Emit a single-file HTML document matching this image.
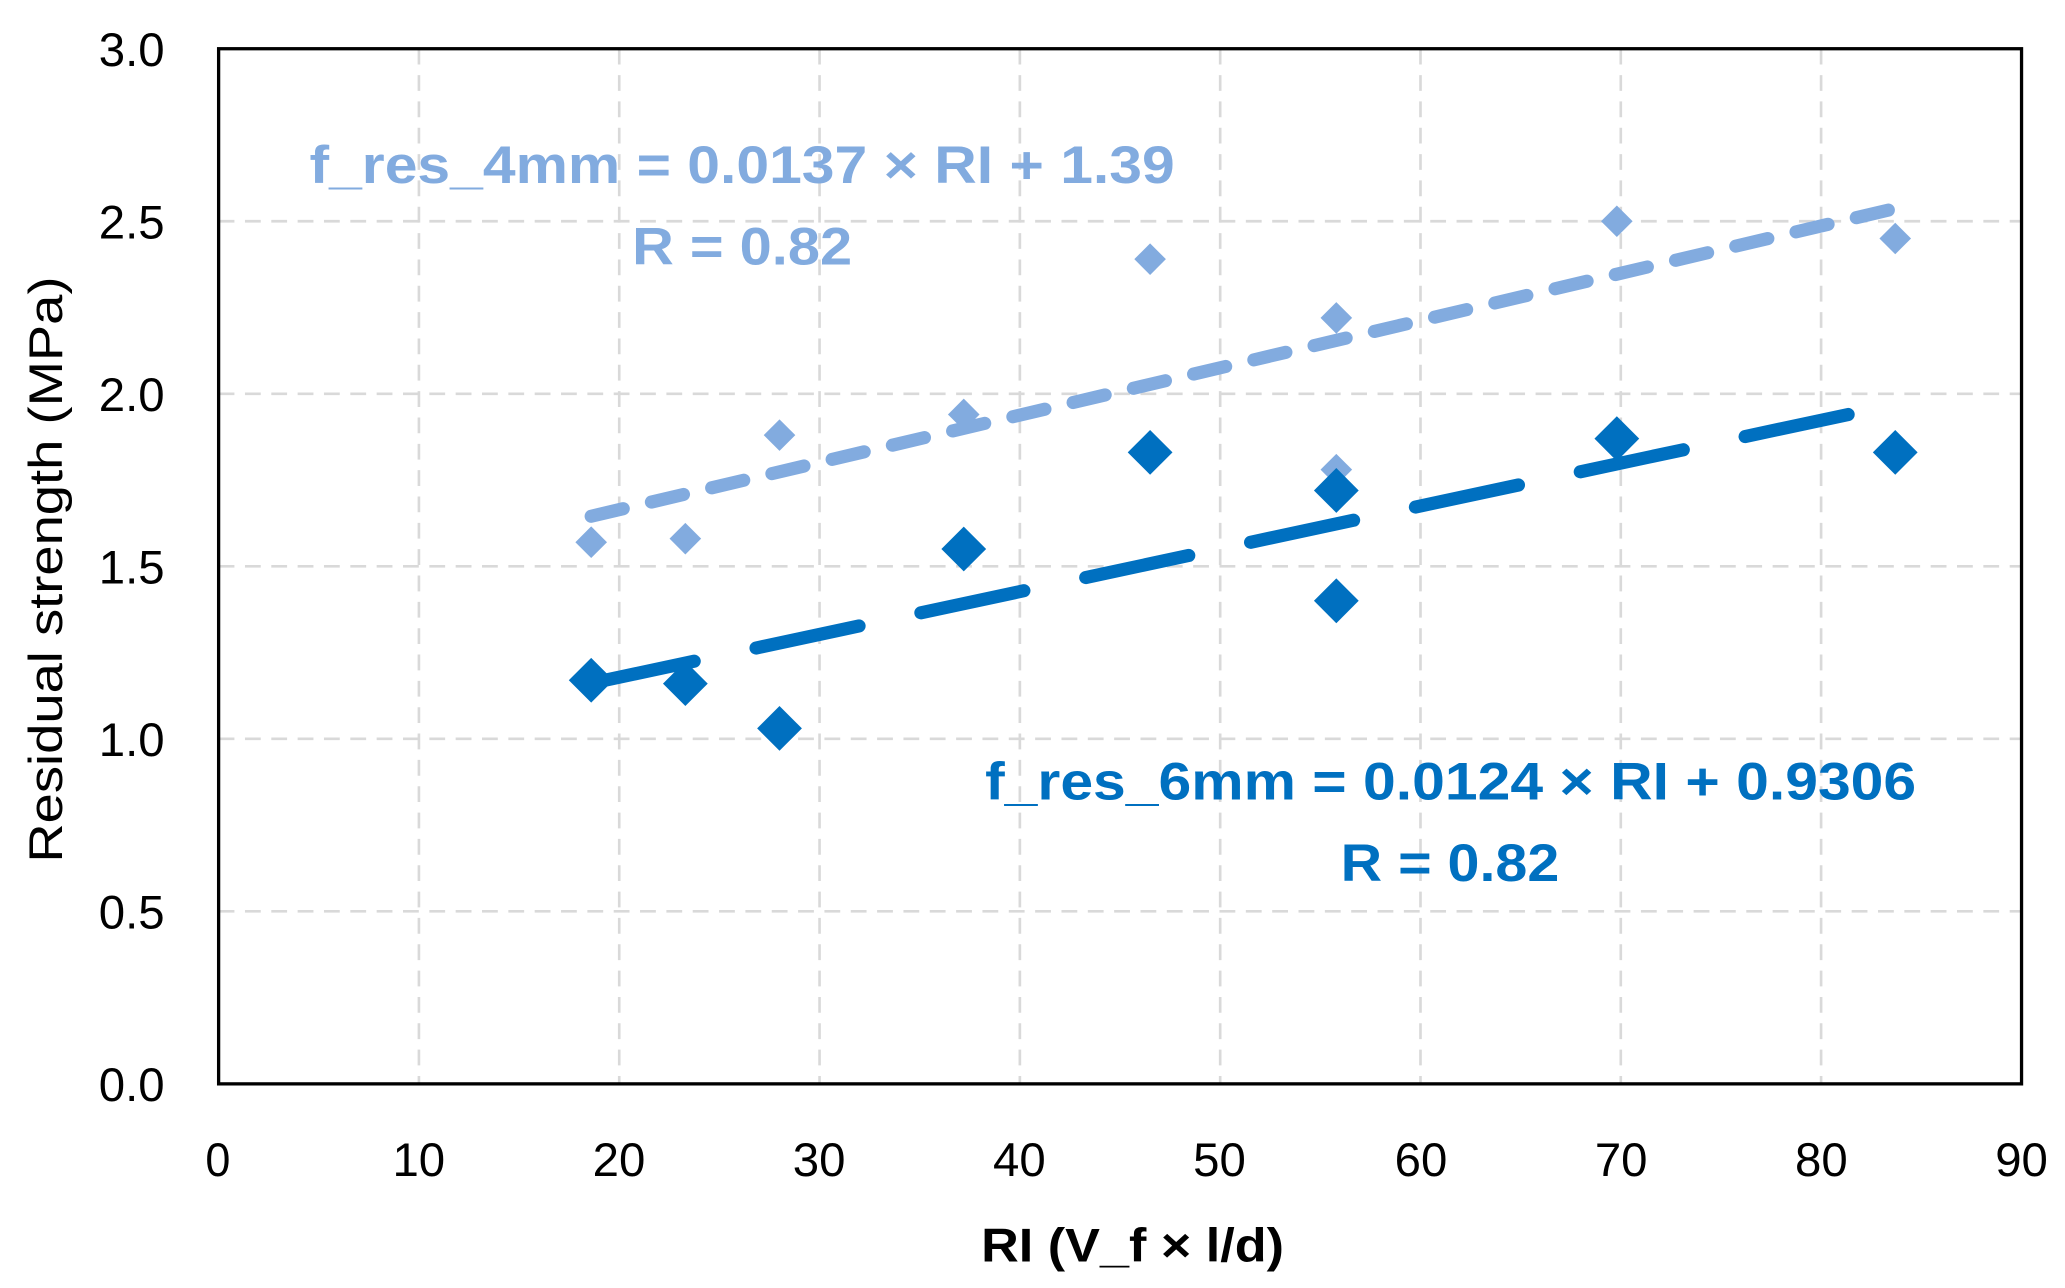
<!DOCTYPE html>
<html><head><meta charset="utf-8"><style>html,body{margin:0;padding:0;background:#fff}svg{display:block}</style></head>
<body>
<svg width="2065" height="1288" viewBox="0 0 1568 978" preserveAspectRatio="none" xmlns="http://www.w3.org/2000/svg" font-family="'Liberation Sans', sans-serif">
<rect width="1568" height="978" fill="#fff"/>
<g stroke="#d9d9d9" stroke-width="2" stroke-dasharray="12,8">
<line x1="318.1" y1="37" x2="318.1" y2="823"/><line x1="470.2" y1="37" x2="470.2" y2="823"/>
<line x1="622.3" y1="37" x2="622.3" y2="823"/><line x1="774.4" y1="37" x2="774.4" y2="823"/>
<line x1="926.5" y1="37" x2="926.5" y2="823"/><line x1="1078.6" y1="37" x2="1078.6" y2="823"/>
<line x1="1230.7" y1="37" x2="1230.7" y2="823"/><line x1="1382.8" y1="37" x2="1382.8" y2="823"/>
<line x1="166" y1="692" x2="1535" y2="692"/><line x1="166" y1="561" x2="1535" y2="561"/>
<line x1="166" y1="430" x2="1535" y2="430"/><line x1="166" y1="299" x2="1535" y2="299"/>
<line x1="166" y1="168" x2="1535" y2="168"/>
</g>
<rect x="166" y="37" width="1369" height="786" fill="none" stroke="#000" stroke-width="2.5"/>
<g font-size="36" fill="#000">
<text x="75" y="50" textLength="50" lengthAdjust="spacingAndGlyphs">3.0</text>
<text x="75" y="181" textLength="50" lengthAdjust="spacingAndGlyphs">2.5</text>
<text x="75" y="312" textLength="50" lengthAdjust="spacingAndGlyphs">2.0</text>
<text x="75" y="443" textLength="50" lengthAdjust="spacingAndGlyphs">1.5</text>
<text x="75" y="574" textLength="50" lengthAdjust="spacingAndGlyphs">1.0</text>
<text x="75" y="705" textLength="50" lengthAdjust="spacingAndGlyphs">0.5</text>
<text x="75" y="836" textLength="50" lengthAdjust="spacingAndGlyphs">0.0</text>
</g>
<g font-size="36" fill="#000">
<text x="156" y="893" textLength="19" lengthAdjust="spacingAndGlyphs">0</text>
<text x="298" y="893" textLength="40" lengthAdjust="spacingAndGlyphs">10</text>
<text x="450" y="893" textLength="40" lengthAdjust="spacingAndGlyphs">20</text>
<text x="602" y="893" textLength="40" lengthAdjust="spacingAndGlyphs">30</text>
<text x="754" y="893" textLength="40" lengthAdjust="spacingAndGlyphs">40</text>
<text x="906" y="893" textLength="40" lengthAdjust="spacingAndGlyphs">50</text>
<text x="1059" y="893" textLength="40" lengthAdjust="spacingAndGlyphs">60</text>
<text x="1211" y="893" textLength="40" lengthAdjust="spacingAndGlyphs">70</text>
<text x="1363" y="893" textLength="40" lengthAdjust="spacingAndGlyphs">80</text>
<text x="1515" y="893" textLength="40" lengthAdjust="spacingAndGlyphs">90</text>
</g>
<text x="745" y="958" font-size="36" font-weight="bold" textLength="230" lengthAdjust="spacingAndGlyphs">RI (V_f × l/d)</text>
<text transform="translate(47,655) rotate(-90)" font-size="36" textLength="445" lengthAdjust="spacingAndGlyphs">Residual strength (MPa)</text>
<line x1="448.9" y1="392" x2="1439.1" y2="158.3" stroke="#82abdf" stroke-width="10" stroke-linecap="round" stroke-dasharray="25,22"/>
<g fill="#82abdf">
<path d="M448.9 399.7l12 12-12 12-12-12z"/><path d="M520.4 397l12 12-12 12-12-12z"/>
<path d="M591.9 318.4l12 12-12 12-12-12z"/><path d="M731.8 302.7l12 12-12 12-12-12z"/>
<path d="M873.3 184.8l12 12-12 12-12-12z"/><path d="M1014.7 229.4l12 12-12 12-12-12z"/>
<path d="M1014.7 344.6l12 12-12 12-12-12z"/><path d="M1227.7 156l12 12-12 12-12-12z"/>
<path d="M1439.1 169.1l12 12-12 12-12-12z"/>
</g>
<line x1="448.9" y1="518.8" x2="1439.1" y2="307.1" stroke="#0070c0" stroke-width="10" stroke-linecap="round" stroke-dasharray="80,48"/>
<g fill="#0070c0">
<path d="M448.9 499.5l17 17-17 17-17-17z"/><path d="M520.4 502.1l17 17-17 17-17-17z"/>
<path d="M591.9 536.1l17 17-17 17-17-17z"/><path d="M731.8 399.9l17 17-17 17-17-17z"/>
<path d="M873.3 326.5l17 17-17 17-17-17z"/><path d="M1014.7 355.4l17 17-17 17-17-17z"/>
<path d="M1014.7 439.2l17 17-17 17-17-17z"/><path d="M1227.7 316.1l17 17-17 17-17-17z"/>
<path d="M1439.1 326.5l17 17-17 17-17-17z"/>
</g>
<g font-size="40" font-weight="bold" fill="#82abdf">
<text x="235" y="139" textLength="657" lengthAdjust="spacingAndGlyphs">f_res_4mm = 0.0137 × RI + 1.39</text>
<text x="480" y="201" textLength="167" lengthAdjust="spacingAndGlyphs">R = 0.82</text>
</g>
<g font-size="40" font-weight="bold" fill="#0070c0">
<text x="748" y="607" textLength="707" lengthAdjust="spacingAndGlyphs">f_res_6mm = 0.0124 × RI + 0.9306</text>
<text x="1018" y="669" textLength="166" lengthAdjust="spacingAndGlyphs">R = 0.82</text>
</g>
</svg>
</body></html>
